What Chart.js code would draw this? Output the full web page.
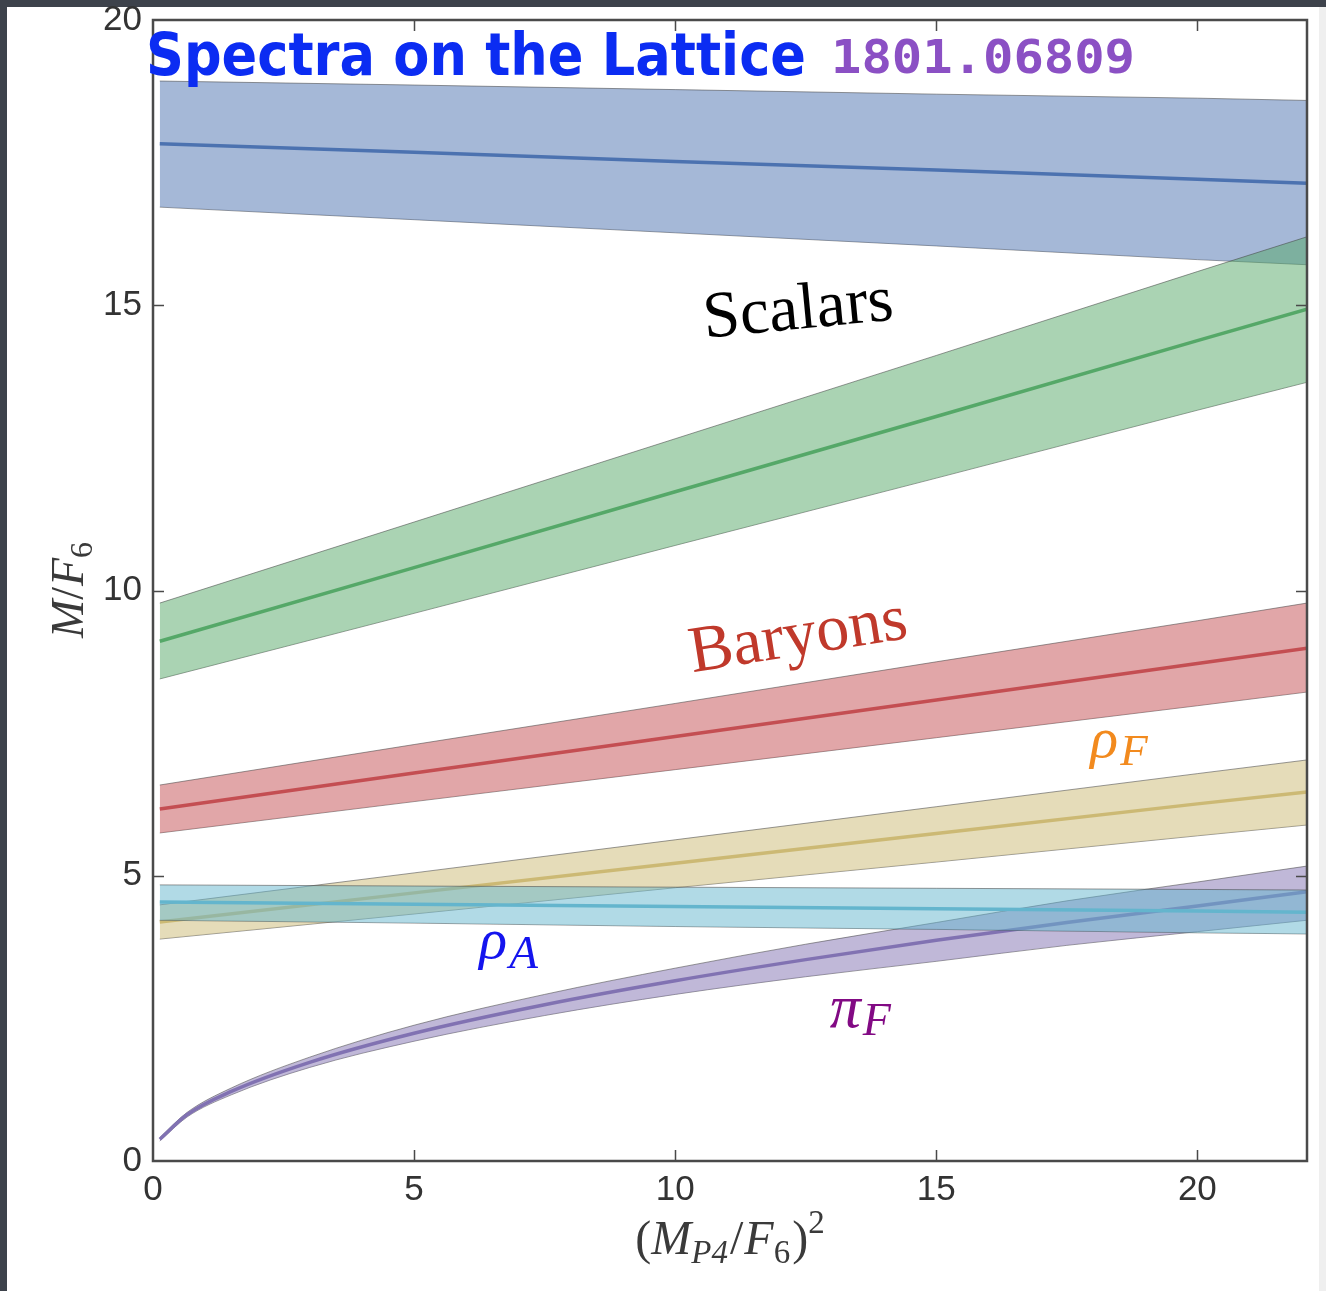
<!DOCTYPE html>
<html><head><meta charset="utf-8">
<script src="https://cdn.jsdelivr.net/npm/chart.js@4/dist/chart.umd.min.js"></script>
<style>html,body{margin:0;padding:0;background:#3d424b;overflow:hidden}canvas{display:block}</style>
</head><body><canvas id="c" width="1326" height="1291" style="width:1326px;height:1291px"></canvas>
<script>
// ---- data ----
const xBand = [0.13, 5, 10, 15, 20, 22.1];

const scalarHiLower = [16.72, 16.50, 16.27, 16.04, 15.80, 15.71];
const scalarHiMid   = [17.83, 17.68, 17.52, 17.37, 17.21, 17.14];
const scalarHiUpper = [18.93, 18.86, 18.78, 18.70, 18.63, 18.59];

const scalarLoLower = [8.45, 9.60, 10.79, 11.97, 13.16, 13.65];
const scalarLoMid   = [9.11, 10.40, 11.73, 13.05, 14.38, 14.93];
const scalarLoUpper = [9.78, 11.20, 12.66, 14.12, 15.59, 16.20];

const baryonLower = [5.75, 6.30, 6.86, 7.42, 7.98, 8.22];
const baryonMid   = [6.17, 6.80, 7.44, 8.08, 8.72, 8.99];
const baryonUpper = [6.59, 7.30, 8.02, 8.75, 9.47, 9.78];

const rhoFLower = [3.89, 4.33, 4.79, 5.24, 5.70, 5.89];
const rhoFMid   = [4.19, 4.70, 5.22, 5.74, 6.26, 6.47];
const rhoFUpper = [4.49, 5.05, 5.63, 6.21, 6.79, 7.03];

const rhoALower = [4.22, 4.17, 4.11, 4.06, 4.00, 3.98];
const rhoAMid   = [4.54, 4.50, 4.46, 4.42, 4.38, 4.36];
const rhoAUpper = [4.84, 4.82, 4.80, 4.78, 4.76, 4.75];

const xPi = [0.13, 0.65, 1.5, 3, 5, 7.5, 10, 12.5, 15, 17.5, 20, 22.1];
const piFLower = [0.35, 0.77, 1.16, 1.64, 2.10, 2.55, 2.92, 3.23, 3.50, 3.78, 4.02, 4.22];
const piFMid   = [0.38, 0.81, 1.22, 1.73, 2.24, 2.74, 3.16, 3.53, 3.87, 4.18, 4.47, 4.72];
const piFUpper = [0.41, 0.85, 1.28, 1.82, 2.38, 2.92, 3.38, 3.80, 4.18, 4.56, 4.89, 5.17];

const xTicks = [0, 5, 10, 15, 20];
const yTicks = [0, 5, 10, 15, 20];
const xMax = 22.1, yMax = 20;

// ---- styling ----
const COLORS = {
  blue: [76,114,176], green: [85,168,104], red: [196,78,82],
  purple: [129,114,178], tan: [204,185,116], cyan: [100,181,205]
};
const rgba = (c, a) => `rgba(${c[0]},${c[1]},${c[2]},${a})`;
const EDGE = 'rgba(70,70,70,0.55)';

const datasets = [];
function addBand(xs, lo, mid, hi, col, smooth) {
  const mk = arr => xs.map((x, i) => ({x: x, y: arr[i]}));
  const base = {pointRadius: 0, pointHoverRadius: 0, tension: 0,
    cubicInterpolationMode: smooth ? 'monotone' : 'default'};
  const iLo = datasets.length;
  datasets.push(Object.assign({}, base, {data: mk(lo), borderColor: EDGE, borderWidth: 1, fill: false}));
  datasets.push(Object.assign({}, base, {data: mk(hi), borderColor: EDGE, borderWidth: 1,
    fill: iLo, backgroundColor: rgba(col, 0.5)}));
  datasets.push(Object.assign({}, base, {data: mk(mid), borderColor: rgba(col, 1), borderWidth: 3.5, fill: false}));
}
addBand(xBand, scalarHiLower, scalarHiMid, scalarHiUpper, COLORS.blue, false);
addBand(xBand, scalarLoLower, scalarLoMid, scalarLoUpper, COLORS.green, false);
addBand(xBand, baryonLower, baryonMid, baryonUpper, COLORS.red, false);
addBand(xPi, piFLower, piFMid, piFUpper, COLORS.purple, true);
addBand(xBand, rhoFLower, rhoFMid, rhoFUpper, COLORS.tan, false);
addBand(xBand, rhoALower, rhoAMid, rhoAUpper, COLORS.cyan, false);
datasets.forEach((d, i) => d.order = -i);

const SERIF = '"Liberation Serif", "Times New Roman", serif';

function drawRich(ctx, parts, x, y, align) {
  let total = 0;
  parts.forEach(p => { ctx.font = p.f; p.w = ctx.measureText(p.t).width; total += p.w + (p.gap || 0); });
  let cx = align === 'center' ? x - total / 2 : x;
  parts.forEach(p => {
    ctx.font = p.f; ctx.fillStyle = p.c; ctx.textBaseline = 'alphabetic'; ctx.textAlign = 'left';
    ctx.fillText(p.t, cx, y + (p.dy || 0));
    cx += p.w + (p.gap || 0);
  });
}
function fitText(ctx, text, font, x, y, w, color) {
  ctx.font = font;
  const m = ctx.measureText(text).width;
  ctx.save(); ctx.translate(x, y); ctx.scale(w / m, 1);
  ctx.fillStyle = color; ctx.textAlign = 'left'; ctx.textBaseline = 'alphabetic';
  ctx.fillText(text, 0, 0); ctx.restore();
}

const bgPlugin = {
  id: 'bg',
  beforeDraw(chart) {
    const ctx = chart.ctx;
    ctx.save();
    ctx.fillStyle = '#3d424b'; ctx.fillRect(0, 0, chart.width, chart.height);
    ctx.fillStyle = '#ffffff'; ctx.fillRect(7, 7, 1312, chart.height - 7);
    ctx.fillStyle = '#efefef'; ctx.fillRect(1319, 7, 7, chart.height - 7);
    ctx.restore();
  }
};

const framePlugin = {
  id: 'frame',
  afterDatasetsDraw(chart) {
    const ctx = chart.ctx, a = chart.chartArea;
    const xs = chart.scales.x, ys = chart.scales.y;
    ctx.save();
    ctx.strokeStyle = '#4a4a4a'; ctx.lineWidth = 1.5;
    ctx.beginPath();
    xTicks.forEach(v => {
      if (v === 0) return;
      const px = Math.round(xs.getPixelForValue(v)) + 0.5;
      ctx.moveTo(px, a.bottom); ctx.lineTo(px, a.bottom - 11);
      ctx.moveTo(px, a.top); ctx.lineTo(px, a.top + 11);
    });
    yTicks.forEach(v => {
      if (v === 0 || v === yMax) return;
      const py = Math.round(ys.getPixelForValue(v)) + 0.5;
      ctx.moveTo(a.left, py); ctx.lineTo(a.left + 11, py);
      ctx.moveTo(a.right, py); ctx.lineTo(a.right - 11, py);
    });
    ctx.stroke();
    ctx.lineWidth = 2.5; ctx.strokeStyle = '#4a4a4a';
    ctx.strokeRect(a.left, a.top, a.right - a.left, a.bottom - a.top);
    ctx.restore();
  },
  afterDraw(chart) {
    const ctx = chart.ctx;
    const xs = chart.scales.x, ys = chart.scales.y;
    const P = (x, y) => [xs.getPixelForValue(x), ys.getPixelForValue(y)];
    ctx.save();
    // handwritten header
    fitText(ctx, 'Spectra on the Lattice', 'bold 58px "DejaVu Sans"', 146, 75, 660, '#0b2cf2');
    fitText(ctx, '1801.06809', 'bold 46px "DejaVu Sans Mono"', 831, 73, 304, '#8b50c4');

    // Scalars
    let p = P(12.39, 14.59);
    ctx.save(); ctx.translate(p[0], p[1]); ctx.rotate(-5.5 * Math.PI / 180);
    ctx.font = '66px ' + SERIF; ctx.fillStyle = '#000'; ctx.textAlign = 'center'; ctx.textBaseline = 'alphabetic';
    ctx.fillText('Scalars', 0, 0); ctx.restore();
    // Baryons
    p = P(12.41, 8.87);
    ctx.save(); ctx.translate(p[0], p[1]); ctx.rotate(-9 * Math.PI / 180);
    ctx.font = '66px ' + SERIF; ctx.fillStyle = '#c0392b'; ctx.textAlign = 'center'; ctx.textBaseline = 'alphabetic';
    ctx.fillText('Baryons', 0, 0); ctx.restore();

    // rho_F
    p = P(17.95, 7.09);
    drawRich(ctx, [
      {t: 'ρ', f: 'italic 58px ' + SERIF, c: '#f28a1e', gap: 2},
      {t: 'F', f: 'italic 45px ' + SERIF, c: '#f28a1e', dy: 8}
    ], p[0], p[1], 'left');
    // rho_A
    p = P(6.25, 3.55);
    drawRich(ctx, [
      {t: 'ρ', f: 'italic 58px ' + SERIF, c: '#1414ee', gap: 2},
      {t: 'A', f: 'italic 47px ' + SERIF, c: '#1414ee', dy: 10}
    ], p[0], p[1], 'left');
    // pi_F
    p = P(12.96, 2.35);
    drawRich(ctx, [
      {t: 'π', f: 'italic 62px ' + SERIF, c: '#820a84', gap: 2},
      {t: 'F', f: 'italic 46px ' + SERIF, c: '#820a84', dy: 8}
    ], p[0], p[1], 'left');

    // x axis title
    drawRich(ctx, [
      {t: '(', f: '48px ' + SERIF, c: '#3a3a3a'},
      {t: 'M', f: 'italic 48px ' + SERIF, c: '#3a3a3a'},
      {t: 'P4', f: 'italic 33px ' + SERIF, c: '#3a3a3a', dy: 9, gap: 2},
      {t: '/', f: '48px ' + SERIF, c: '#3a3a3a', gap: 1},
      {t: 'F', f: 'italic 48px ' + SERIF, c: '#3a3a3a'},
      {t: '6', f: '33px ' + SERIF, c: '#3a3a3a', dy: 9, gap: 2},
      {t: ')', f: '48px ' + SERIF, c: '#3a3a3a'},
      {t: '2', f: '33px ' + SERIF, c: '#3a3a3a', dy: -21}
    ], 730, 1254, 'center');

    // y axis title
    ctx.save(); ctx.translate(83, 590); ctx.rotate(-Math.PI / 2);
    drawRich(ctx, [
      {t: 'M', f: 'italic 46px ' + SERIF, c: '#3a3a3a'},
      {t: '/', f: '46px ' + SERIF, c: '#3a3a3a', gap: 1},
      {t: 'F', f: 'italic 46px ' + SERIF, c: '#3a3a3a'},
      {t: '6', f: '32px ' + SERIF, c: '#3a3a3a', dy: 9}
    ], 0, 0, 'center');
    ctx.restore();
    ctx.restore();
  }
};

new Chart(document.getElementById('c'), {
  type: 'line',
  data: {datasets: datasets},
  options: {
    responsive: false, animation: false, devicePixelRatio: 1,
    layout: {padding: {top: 20, right: 19, left: 0, bottom: 0}, autoPadding: false},
    plugins: {legend: {display: false}, tooltip: {enabled: false}, filler: {propagate: false}},
    scales: {
      x: {
        type: 'linear', min: 0, max: xMax,
        afterBuildTicks: s => { s.ticks = xTicks.map(v => ({value: v})); },
        afterFit: s => { s.height = 130; s.paddingLeft = 0; s.paddingRight = 0; },
        grid: {display: false, drawTicks: false}, border: {display: false},
        ticks: {padding: 8, color: '#333', font: {family: '"Liberation Sans", Arial, sans-serif', size: 35}, maxRotation: 0, autoSkip: false}
      },
      y: {
        type: 'linear', min: 0, max: yMax,
        afterBuildTicks: s => { s.ticks = yTicks.map(v => ({value: v})); },
        afterFit: s => { s.width = 153; s.paddingTop = 0; s.paddingBottom = 0; },
        grid: {display: false, drawTicks: false}, border: {display: false},
        ticks: {padding: 11, color: '#333', font: {family: '"Liberation Sans", Arial, sans-serif', size: 35}, autoSkip: false}
      }
    }
  },
  plugins: [bgPlugin, framePlugin]
});
</script>
</body></html>
